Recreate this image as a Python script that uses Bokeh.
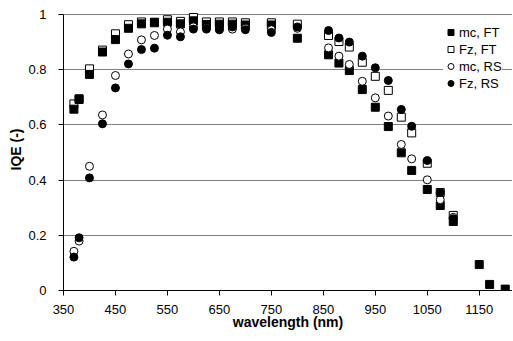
from bokeh.plotting import figure
from bokeh.models import (ColumnDataSource, Range1d, FixedTicker, Legend, LegendItem,
                          NumeralTickFormatter)
from bokeh.embed import file_html
from bokeh.resources import INLINE

# ---- data ----
wl_ft = [370, 380, 400, 425, 450, 475, 500, 525, 550, 575, 600, 625, 650, 675, 700,
         750, 800, 860, 880, 900, 925, 950, 975, 1000, 1020, 1050, 1075, 1100]
wl_mc_ft = wl_ft + [1150, 1170, 1200]
mc_ft = [0.657, 0.692, 0.783, 0.864, 0.909, 0.950, 0.966, 0.972, 0.972, 0.966, 0.977,
         0.964, 0.965, 0.965, 0.962, 0.962, 0.914, 0.854, 0.824, 0.797, 0.728, 0.664,
         0.594, 0.499, 0.435, 0.366, 0.308, 0.250, 0.094, 0.022, 0.005]
fz_ft = [0.676, 0.695, 0.803, 0.871, 0.930, 0.963, 0.973, 0.970, 0.981, 0.975, 0.989,
         0.973, 0.973, 0.973, 0.970, 0.970, 0.965, 0.924, 0.902, 0.882, 0.827, 0.776,
         0.725, 0.628, 0.571, 0.461, 0.355, 0.272]
mc_rs = [0.142, 0.179, 0.450, 0.636, 0.779, 0.857, 0.908, 0.924, 0.947, 0.937, 0.955,
         0.950, 0.945, 0.947, 0.950, 0.945, 0.950, 0.879, 0.849, 0.819, 0.758, 0.698,
         0.632, 0.529, 0.477, 0.401, 0.329, 0.265]
fz_rs = [0.121, 0.191, 0.408, 0.604, 0.734, 0.821, 0.873, 0.878, 0.925, 0.919, 0.947,
         0.947, 0.945, 0.955, 0.945, 0.935, 0.955, 0.942, 0.915, 0.900, 0.849, 0.807,
         0.761, 0.656, 0.595, 0.471, 0.355, 0.260]

x_ticks = [350, 450, 550, 650, 750, 850, 950, 1050, 1150]
y_ticks = [0, 0.2, 0.4, 0.6, 0.8, 1.0]
y_tick_labels = ["0", "0.2", "0.4", "0.6", "0.8", "1"]
series_names = ["mc, FT", "Fz, FT", "mc, RS", "Fz, RS"]

FONT = "Liberation Sans"

p = figure(frame_width=449, frame_height=282, output_backend="svg", toolbar_location=None,
           x_range=Range1d(350, 1214), y_range=Range1d(0, 1.0217),
           min_border_left=63, min_border_right=0, min_border_top=8, min_border_bottom=0)
p.outline_line_color = None
p.background_fill_color = "white"

# grid
p.xgrid.grid_line_color = None
p.ygrid.grid_line_color = "#808080"
p.ygrid.grid_line_width = 1
p.ygrid.ticker = FixedTicker(ticks=y_ticks[1:])

# axes
p.xaxis.ticker = FixedTicker(ticks=x_ticks)
p.yaxis.ticker = FixedTicker(ticks=y_ticks)
p.yaxis.formatter = NumeralTickFormatter(format="0.[0]")
p.yaxis.major_label_overrides = {t: l for t, l in zip(y_ticks, y_tick_labels)}
p.yaxis.bounds = (0, 1)
for ax in (p.xaxis, p.yaxis):
    ax.axis_line_color = "black"
    ax.axis_line_width = 1
    ax.major_tick_line_color = "black"
    ax.major_tick_in = 0
    ax.major_tick_out = 5
    ax.minor_tick_line_color = None
    ax.major_label_text_font = FONT
    ax.major_label_text_font_size = "13px"
    ax.major_label_text_color = "black"
    ax.axis_label_text_font = FONT
    ax.axis_label_text_font_size = "14px"
    ax.axis_label_text_font_style = "bold"
    ax.axis_label_text_color = "black"
p.xaxis.axis_label = "wavelength (nm)"
p.yaxis.axis_label = "IQE (-)"
p.xaxis.major_label_standoff = 9
p.xaxis.axis_label_standoff = -3
p.yaxis.major_label_standoff = 12
p.yaxis.axis_label_standoff = 1

# series (draw order: Fz FT, mc FT, mc RS, Fz RS)
s_fzft = ColumnDataSource(dict(x=wl_ft, y=fz_ft))
s_mcft = ColumnDataSource(dict(x=wl_mc_ft, y=mc_ft))
s_mcrs = ColumnDataSource(dict(x=wl_ft, y=mc_rs))
s_fzrs = ColumnDataSource(dict(x=wl_ft, y=fz_rs))

r_fzft = p.scatter("x", "y", source=s_fzft, marker="square", size=8,
                   fill_color="white", line_color="black", line_width=1)
r_mcft = p.scatter("x", "y", source=s_mcft, marker="square", size=8,
                   fill_color="black", line_color="black", line_width=1)
r_mcrs = p.scatter("x", "y", source=s_mcrs, marker="circle", size=8,
                   fill_color="white", line_color="black", line_width=1)
r_fzrs = p.scatter("x", "y", source=s_fzrs, marker="circle", size=8,
                   fill_color="black", line_color="black", line_width=1)

legend = Legend(items=[LegendItem(label=series_names[0], renderers=[r_mcft]),
                       LegendItem(label=series_names[1], renderers=[r_fzft]),
                       LegendItem(label=series_names[2], renderers=[r_mcrs]),
                       LegendItem(label=series_names[3], renderers=[r_fzrs])],
                location=(380, 199))
legend.border_line_color = None
legend.background_fill_color = "white"
legend.background_fill_alpha = 1
legend.padding = 2
legend.margin = 0
legend.spacing = 1
legend.glyph_width = 15
legend.glyph_height = 16
legend.label_height = 16
legend.label_standoff = 1
legend.label_text_font = FONT
legend.label_text_font_size = "13px"
legend.label_text_color = "black"
p.add_layout(legend, "center")

open("out.html", "w").write(file_html(p, INLINE))
